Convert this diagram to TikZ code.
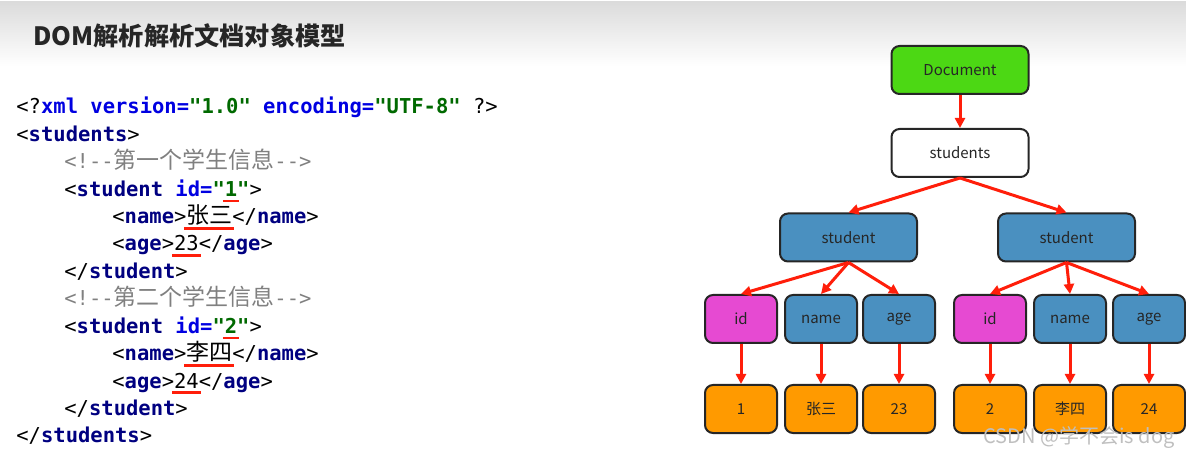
\documentclass[tikz,border=0pt]{standalone}
\usepackage{fontspec}
\setmainfont{Noto Sans CJK SC}
\setmonofont{DejaVu Sans Mono}
\newfontfamily\cjk[Scale=1.12]{Noto Sans CJK SC}
\usetikzlibrary{positioning,arrows.meta}

\definecolor{tagc}{RGB}{0,0,128}
\definecolor{attc}{RGB}{0,0,225}
\definecolor{strc}{RGB}{0,105,0}
\definecolor{comc}{RGB}{128,128,128}
\definecolor{arrowred}{RGB}{255,30,10}
\definecolor{docgreen}{RGB}{76,216,20}
\definecolor{elemblue}{RGB}{74,144,192}
\definecolor{attrpink}{RGB}{230,74,210}
\definecolor{textorange}{RGB}{255,154,0}

% pieces of the xml listing
\newcommand\tg[1]{\textbf{\color{tagc}#1}}
\newcommand\at[1]{\textbf{\color{attc}#1}}
\newcommand\st[1]{\textbf{\color{strc}#1}}
\newcommand\cm[1]{{\color{comc}#1}}
\newsavebox\ulbox
\newcommand\redul[1]{\sbox\ulbox{#1}\makebox[0pt][l]{\hspace{-1pt}\textcolor{arrowred}{\rule[-3pt]{\dimexpr\wd\ulbox+2pt}{1.3pt}}}\usebox\ulbox}

\begin{document}
\begin{tikzpicture}[x=0.5pt,y=-0.5pt,
    box/.style={draw=black!85,line width=1pt,rounded corners=4pt,minimum height=24pt,inner sep=0pt,font=\fontsize{7.5}{9}\selectfont,text=black!85},
    wide/.style={box,minimum width=68.5pt},
    leaf/.style={box,minimum width=36pt},
    link/.style={-{Triangle[length=5pt,width=5pt]},draw=arrowred,line width=1.5pt},
    code/.style={anchor=base west,inner sep=0pt,font=\ttfamily\fontsize{10.25}{12}\selectfont}]

    \useasboundingbox (0,0) rectangle (1186,458);
    \shade[top color=gray!28,bottom color=white] (0,2) rectangle (1186,66);
    \node[anchor=base west,inner sep=0pt,font=\bfseries\fontsize{12.6}{14}\selectfont,text=black!85] (title) at (33,46) {DOM解析解析文档对象模型};

    % xml listing
    \node[code] (l1) at (16,114) {<?\at{xml version=}\st{"1.0"} \at{encoding=}\st{"UTF-8"} ?>};
    \node[code] (l2) at (16,141.4) {<\tg{students}>};
    \node[code] (l3) at (64,168.8) {\cm{<!--{\cjk 第一个学生信息}-->}};
    \node[code] (l4) at (64,196.2) {<\tg{student} \at{id=}\st{"\redul{1}"}>};
    \node[code] (l5) at (112,223.6) {<\tg{name}>\redul{\cjk 张三}</\tg{name}>};
    \node[code] (l6) at (112,251) {<\tg{age}>\redul{23}</\tg{age}>};
    \node[code] (l7) at (64,278.4) {</\tg{student}>};
    \node[code] (l8) at (64,305.8) {\cm{<!--{\cjk 第二个学生信息}-->}};
    \node[code] (l9) at (64,333.2) {<\tg{student} \at{id=}\st{"\redul{2}"}>};
    \node[code] (l10) at (112,360.6) {<\tg{name}>\redul{\cjk 李四}</\tg{name}>};
    \node[code] (l11) at (112,388) {<\tg{age}>\redul{24}</\tg{age}>};
    \node[code] (l12) at (64,415.4) {</\tg{student}>};
    \node[code] (l13) at (16,442.8) {</\tg{students}>};

    % dom tree
    \node[wide,fill=docgreen] (doc) at (960,70) {Document};
    \node[wide,fill=white] (studs) at (960,153) {students};
    \node[wide,fill=elemblue] (stu1) at (848.5,237.5) {student};
    \node[wide,fill=elemblue] (stu2) at (1066.5,237.5) {student};

    \node[leaf,fill=attrpink] (id1) at (741,319) {id};
    \node[leaf,fill=elemblue,right=3pt of id1] (name1) {name};
    \node[leaf,fill=elemblue,right=2pt of name1] (age1) {age};
    \node[leaf,fill=attrpink] (id2) at (990,319) {id};
    \node[leaf,fill=elemblue,right=3pt of id2] (name2) {name};
    \node[leaf,fill=elemblue,right=2.5pt of name2] (age2) {age};

    \node[leaf,fill=textorange,below=20pt of id1] (val1) {1};
    \node[leaf,fill=textorange,below=20pt of name1] (zs) {张三};
    \node[leaf,fill=textorange,below=20pt of age1] (val23) {23};
    \node[leaf,fill=textorange,below=20pt of id2] (val2) {2};
    \node[leaf,fill=textorange,below=20pt of name2] (ls) {李四};
    \node[leaf,fill=textorange,below=20pt of age2] (val24) {24};

    \draw[link] (doc) -- (studs);
    \draw[link] (studs.south) -- (stu1.north);
    \draw[link] (studs.south) -- (stu2.north);
    \foreach \st/\kid in {stu1/id1,stu1/name1,stu1/age1,stu2/id2,stu2/name2,stu2/age2}{
        \draw[link] (\st.south) -- (\kid.north);
    }
    \foreach \kid/\val in {id1/val1,name1/zs,age1/val23,id2/val2,name2/ls,age2/val24}{
        \draw[link] (\kid) -- (\val);
    }

    \node[text=gray!50,font=\fontsize{10}{12}\selectfont] (mark) at (1079,438) {CSDN @学不会is dog};
\end{tikzpicture}
\end{document}
